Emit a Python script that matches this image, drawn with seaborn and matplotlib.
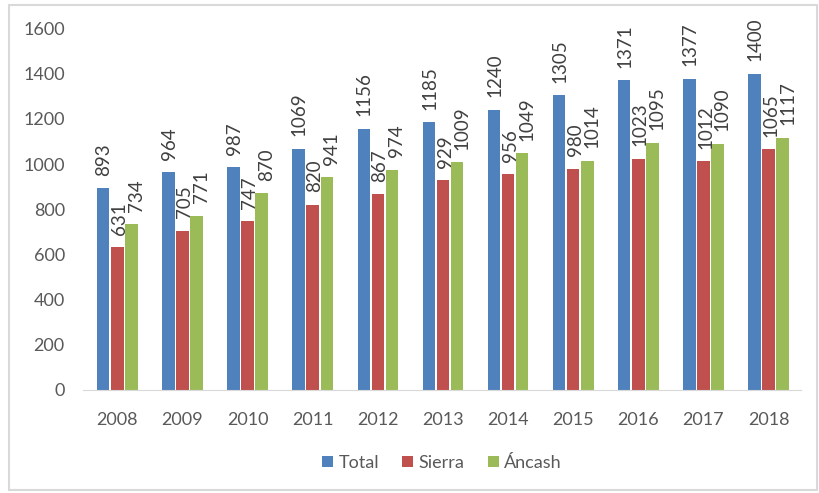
import pandas as pd
import numpy as np
import matplotlib.pyplot as plt
import seaborn as sns
from matplotlib.patches import Rectangle

years = ['2008', '2009', '2010', '2011', '2012', '2013', '2014', '2015', '2016', '2017', '2018']
total = [893, 964, 987, 1069, 1156, 1185, 1240, 1305, 1371, 1377, 1400]
sierra = [631, 705, 747, 820, 867, 929, 956, 980, 1023, 1012, 1065]
ancash = [734, 771, 870, 941, 974, 1009, 1049, 1014, 1095, 1090, 1117]

series = ['Total', 'Sierra', 'Áncash']
colores = ['#4F81BD', '#C0504D', '#9BBB59']

df = pd.DataFrame({'Año': years, 'Total': total, 'Sierra': sierra, 'Áncash': ancash})
df_long = df.melt(id_vars='Año', var_name='Serie', value_name='Valor')

sns.set_style('white')
plt.rcParams['font.family'] = ['Lato', 'DejaVu Sans']

fig = plt.figure(figsize=(8.2, 4.93), dpi=100)
ax = fig.add_axes([0.101, 0.209, 0.876, 0.733])

sns.barplot(data=df_long, x='Año', y='Valor', hue='Serie', hue_order=series,
            palette=colores, width=0.65, gap=0.12, saturation=1, ax=ax,
            edgecolor='none', errorbar=None, legend=True)

# etiquetas algo corridas a la derecha, como en Excel
desplaz = [0.5, 1.5, 3.5]
for cont, dx in zip(ax.containers, desplaz):
    anns = ax.bar_label(cont, fmt='%d', rotation=90, padding=9, fontsize=13.5, color='#404040')
    for a in anns:
        a.xyann = (dx, a.xyann[1])

ax.set_ylim(0, 1600)
ax.set_yticks(range(0, 1601, 200))
ax.set_xlim(-0.53, 10.5)
ax.set_xlabel('')
ax.set_ylabel('')
ax.tick_params(axis='both', length=0, labelsize=13, labelcolor='#595959')
ax.tick_params(axis='x', pad=16)
ax.tick_params(axis='y', pad=13)
for s in ['top', 'right', 'left']:
    ax.spines[s].set_visible(False)
ax.spines['bottom'].set_color('#D9D9D9')

ax.legend(loc='upper center', bbox_to_anchor=(0.5, -0.135), ncol=3, frameon=False,
          fontsize=13, handlelength=0.6, handleheight=0.6, handletextpad=0.3,
          columnspacing=1.3, labelcolor='#595959')

fig.patches.append(Rectangle((0.011, 0.006), 0.985, 0.984, transform=fig.transFigure,
                             fill=False, edgecolor='#D9D9D9', linewidth=1.5))

fig.savefig('out.png', dpi=100)
